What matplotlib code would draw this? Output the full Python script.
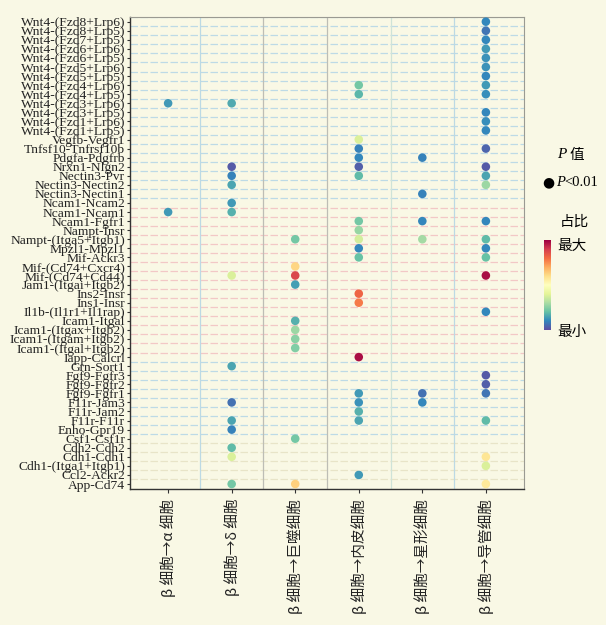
import numpy as np
import matplotlib.pyplot as plt

# ligand-receptor pairs, top to bottom
pairs = ["Wnt4-(Fzd8+Lrp6)", "Wnt4-(Fzd8+Lrp5)", "Wnt4-(Fzd7+Lrp5)", "Wnt4-(Fzd6+Lrp6)",
         "Wnt4-(Fzd6+Lrp5)", "Wnt4-(Fzd5+Lrp6)", "Wnt4-(Fzd5+Lrp5)", "Wnt4-(Fzd4+Lrp6)",
         "Wnt4-(Fzd4+Lrp5)", "Wnt4-(Fzd3+Lrp6)", "Wnt4-(Fzd3+Lrp5)", "Wnt4-(Fzd1+Lrp6)",
         "Wnt4-(Fzd1+Lrp5)", "Vegfb-Vegfr1", "Tnfsf10-Tnfrsf10b", "Pdgfa-Pdgfrb",
         "Nrxn1-Nlgn2", "Nectin3-Pvr", "Nectin3-Nectin2", "Nectin3-Nectin1",
         "Ncam1-Ncam2", "Ncam1-Ncam1", "Ncam1-Fgfr1", "Nampt-Insr",
         "Nampt-(Itga5+Itgb1)", "Mpzl1-Mpzl1", "Mif-Ackr3", "Mif-(Cd74+Cxcr4)",
         "Mif-(Cd74+Cd44)", "Jam1-(Itgai+Itgb2)", "Ins2-Insr", "Ins1-Insr",
         "Il1b-(Il1r1+Il1rap)", "Icam1-Itgal", "Icam1-(Itgax+Itgb2)", "Icam1-(Itgam+Itgb2)",
         "Icam1-(Itgal+Itgb2)", "Iapp-Calcrl", "Grn-Sort1", "Fgf9-Fgfr3",
         "Fgf9-Fgfr2", "Fgf9-Fgfr1", "F11r-Jam3", "F11r-Jam2",
         "F11r-F11r", "Enho-Gpr19", "Csf1-Csf1r", "Cdh2-Cdh2",
         "Cdh1-Cdh1", "Cdh1-(Itga1+Itgb1)", "Ccl2-Ackr2", "App-Cd74"]

targets = ["β 细胞→α 细胞", "β 细胞→δ 细胞", "β 细胞→巨噬细胞",
           "β 细胞→内皮细胞", "β 细胞→星形细胞", "β 细胞→导管细胞"]

# each significant point: target column, pair row (1 = top), relative proportion (0..1)
pt_col = ([1] * 2 + [2] * 14 + [3] * 10 + [4] * 20 + [5] * 6 + [6] * 29)
pt_row = [10, 22,
          10, 17, 18, 19, 21, 22, 29, 39, 43, 45, 46, 48, 49, 52,
          25, 28, 29, 30, 34, 35, 36, 37, 47, 52,
          8, 9, 14, 15, 16, 17, 18, 23, 24, 25, 26, 27, 31, 32, 38, 42, 43, 44, 45, 51,
          16, 20, 23, 25, 42, 43,
          1, 2, 3, 4, 5, 6, 7, 8, 9, 11, 12, 13, 15, 17, 18, 19, 23, 25, 26, 27, 29, 33,
          40, 41, 42, 45, 49, 50, 52]
pt_prop = [0.13, 0.13,
           0.16, 0.02, 0.09, 0.15, 0.13, 0.17, 0.38, 0.15, 0.06, 0.15, 0.09, 0.19, 0.38, 0.22,
           0.22, 0.62, 0.88, 0.14, 0.17, 0.28, 0.25, 0.24, 0.22, 0.63,
           0.22, 0.18, 0.38, 0.09, 0.10, 0.03, 0.19, 0.22, 0.27, 0.37, 0.10, 0.20, 0.82, 0.78,
           0.98, 0.13, 0.12, 0.17, 0.15, 0.13,
           0.09, 0.09, 0.10, 0.29, 0.06, 0.10,
           0.10, 0.07, 0.10, 0.13, 0.12, 0.12, 0.10, 0.13, 0.11, 0.10, 0.11, 0.10, 0.04, 0.02,
           0.15, 0.28, 0.10, 0.19, 0.10, 0.20, 0.98, 0.10, 0.02, 0.03, 0.07, 0.19, 0.58, 0.38,
           0.57]

bg = "#f9f8e5"
serif = ["Liberation Serif", "DejaVu Serif"]
cjk = ["Noto Sans CJK SC", "DejaVu Sans"]

fig = plt.figure(figsize=(6.06, 6.25), dpi=100, facecolor=bg)
ax = fig.add_axes([0.2145, 0.2176, 0.6502, 0.7557], facecolor=bg)

n = len(pairs)
# grid lines between rows / columns
for i in range(n + 1):
    r = i + 0.5
    if 21 <= i <= 37:
        c = "#f2c8c6"
    elif i >= 47:
        c = "#e8e4c8"
    else:
        c = "#bddae6"
    ax.axhline(r, color=c, lw=0.9, ls=(0, (6, 2)), zorder=1)
vcols = ["#bcd9e4", "#bdbdb5", "#bdbdb5", "#cfe3d8", "#bcd9e4"]
for j, c in enumerate(vcols):
    ax.axvline(j + 1.5, color=c, lw=0.9, zorder=1)

cmap = plt.get_cmap("Spectral_r")
ax.scatter(pt_col, pt_row, c=pt_prop, cmap=cmap, vmin=0, vmax=1, s=38,
           edgecolors="none", zorder=3)

ax.set_xlim(0.4, 6.6)
ax.set_ylim(n + 0.55, 0.45)
ax.set_yticks(np.arange(1, n + 1))
ax.set_yticklabels(pairs, family=serif, fontsize=9.7, color="#222222")
ax.set_xticks(np.arange(1, 7))
ax.set_xticklabels(targets, rotation=90, family=cjk, fontsize=10.5, color="#222222",
                   va="top")
ax.tick_params(axis="y", length=2.5, width=0.8, pad=1, color="#333333")
ax.tick_params(axis="x", length=3, width=0.8, pad=4, color="#333333")
for s in ["left", "bottom"]:
    ax.spines[s].set_color("#333333")
    ax.spines[s].set_linewidth(1.0)
for s in ["top", "right"]:
    ax.spines[s].set_color("#9a9a92")
    ax.spines[s].set_linewidth(0.8)

# legend
W, H = 606, 625
def fx(x):
    return x / W
def fy(y):
    return 1 - y / H

fig.text(fx(557), fy(155), "P", family=serif, style="italic", fontsize=11, va="center")
fig.text(fx(569), fy(155), "值", family=cjk, fontsize=10.5, va="center")
fig.text(fx(548), fy(182), "●", family=["DejaVu Sans"], fontsize=10, va="center", ha="center")
fig.text(fx(556), fy(182), "P", family=serif, style="italic", fontsize=10.5, va="center")
fig.text(fx(564), fy(182), "<0.01", family=serif, fontsize=10.5, va="center")
fig.text(fx(560), fy(222), "占比", family=cjk, fontsize=10.5, va="center")

cax = fig.add_axes([fx(544), fy(330), fx(551) - fx(544), fy(240) - fy(330)])
grad = np.linspace(1, 0, 200).reshape(-1, 1)
cax.imshow(grad, aspect="auto", cmap=cmap, vmin=0, vmax=1)
cax.set_axis_off()
fig.text(fx(557), fy(246), "最大", family=cjk, fontsize=10.5, va="center")
fig.text(fx(557), fy(332), "最小", family=cjk, fontsize=10.5, va="center")

fig.savefig("out.png", dpi=100, facecolor=bg)
